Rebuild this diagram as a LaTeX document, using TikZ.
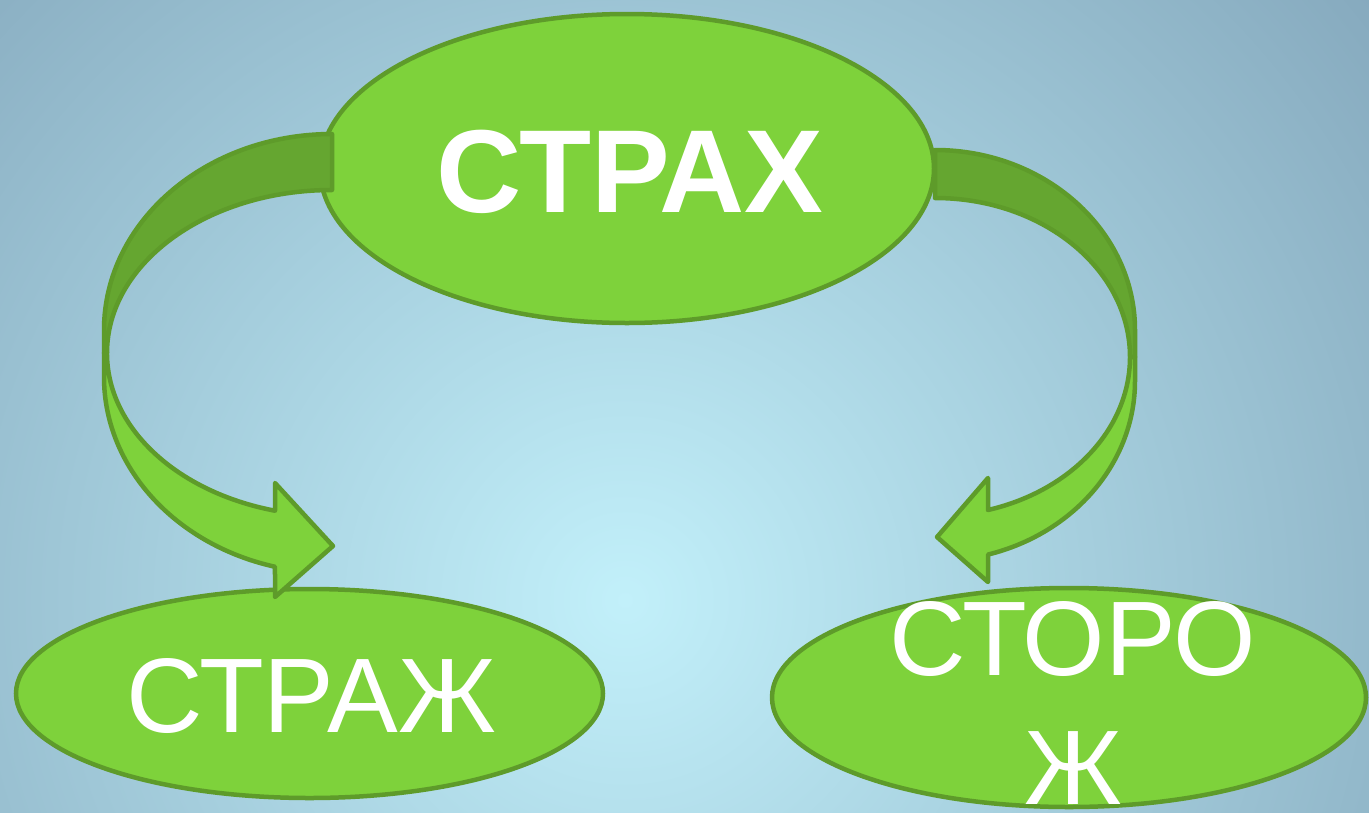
\documentclass[tikz,border=0pt]{standalone}
\usepackage{fontspec}
\setmainfont{Liberation Sans}
\usetikzlibrary{shapes.geometric}
\definecolor{bgin}{RGB}{194,240,250}
\definecolor{bgout}{RGB}{124,158,180}
\definecolor{gfill}{RGB}{126,210,59}
\definecolor{gline}{RGB}{94,155,42}
\definecolor{gdark}{RGB}{101,166,48}
\tikzset{
  ell/.style={ellipse, draw=gline, fill=gfill, line width=4.5pt, inner sep=0pt},
  arrowfront/.style={draw=gline, fill=gfill, line width=4.5pt, line join=round},
  arrowback/.style={draw=gline, fill=gdark, line width=4.5pt, line join=round},
  lbl/.style={text=white, inner sep=0pt}
}
\begin{document}
\begin{tikzpicture}[x=1pt,y=-1pt]
\useasboundingbox (0,0) rectangle (1369,812);
\begin{scope}
  \clip (0,0) rectangle (1369,812);
  \shade[inner color=bgin, outer color=bgout] (625,600) circle (1120);
\end{scope}
% ellipses
\node[ell, minimum width=614pt, minimum height=309pt] (nStrakh) at (627,168.5) {};
\node[ell, minimum width=587pt, minimum height=209pt] (nStrazh) at (309.5,693.5) {};
\node[ell, minimum width=594pt, minimum height=219pt] (nStorozh) at (1069,697.5) {};
% left curved arrow (back part)
\draw[arrowback] (332,134) arc[start angle=270, end angle=180, x radius=228, y radius=196]
  -- (104,353) -- (107,353)
  arc[start angle=180, end angle=270, x radius=225, y radius=163] -- cycle;
% left curved arrow (front part)
\draw[arrowfront] (107,353) -- (104,353) -- (104,377)
  arc[start angle=180, end angle=104.48, x radius=228, y radius=196]
  -- (275,597) -- (333,546) -- (275,483) -- (275,510.7)
  arc[start angle=104.67, end angle=180, x radius=225, y radius=163] -- cycle;
% right curved arrow (back part)
\draw[arrowback] (935,150) arc[start angle=270, end angle=360, x radius=200, y radius=180]
  -- (1135,357) -- (1130,357)
  arc[start angle=360, end angle=270, x radius=195, y radius=159] -- cycle;
% right curved arrow (front part)
\draw[arrowfront] (1130,357) -- (1135,357) -- (1135,381)
  arc[start angle=0, end angle=74.63, x radius=200, y radius=180]
  -- (988,582) -- (937,537) -- (988,478) -- (988,510)
  arc[start angle=74.23, end angle=0, x radius=195, y radius=159] -- cycle;
% labels
\node[lbl, anchor=base, font=\bfseries\fontsize{118}{120}\selectfont] (tStrakh) at (630,212) {СТРАХ};
\node[lbl, anchor=base, font=\fontsize{106}{110}\selectfont] (tStrazh) at (311,732) {СТРАЖ};
\node[lbl, align=center, font=\fontsize{106}{129}\selectfont] (tStorozh) at (1073,703) {СТОРО\\Ж};
\end{tikzpicture}
\end{document}
